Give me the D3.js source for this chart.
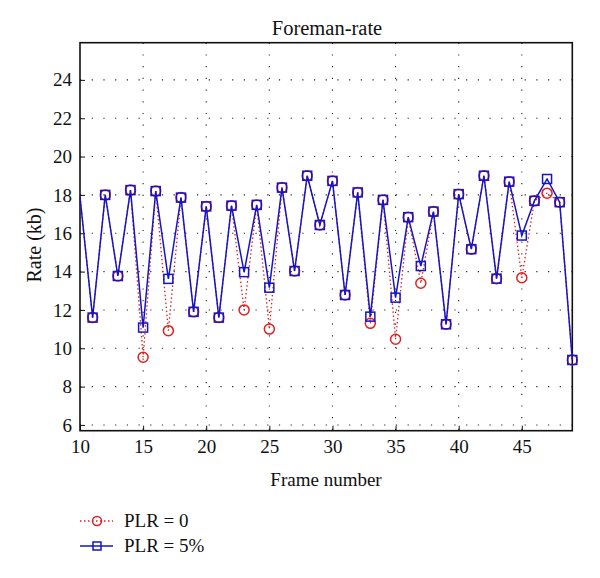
<!DOCTYPE html>
<html>
<head>
<meta charset="utf-8">
<script src="https://cdn.jsdelivr.net/npm/d3@7"></script>
<style>
  html, body { margin: 0; padding: 0; background: #fff; }
  svg { display: block; }
</style>
</head>
<body>
<svg id="chart" width="600" height="578"></svg>
<script>
const frames = d3.range(10, 50);
const plr0 = [17.9, 11.6, 18.0, 13.77, 18.25, 9.53, 18.2, 10.92, 17.86, 11.9,
              17.4, 11.6, 17.44, 12.0, 17.48, 11.0, 18.38, 14.03, 19.0, 16.43,
              18.73, 12.78, 18.13, 11.3, 17.74, 10.47, 16.84, 13.39, 17.13, 11.25,
              18.04, 15.17, 19.0, 13.63, 18.69, 13.68, 17.69, 18.09, 17.62, 9.39];
const plr5 = [17.9, 11.6, 18.0, 13.77, 18.25, 11.08, 18.2, 13.62, 17.86, 11.9,
              17.4, 11.6, 17.44, 13.97, 17.48, 13.16, 18.38, 14.03, 19.0, 16.43,
              18.73, 12.78, 18.13, 11.65, 17.74, 12.64, 16.84, 14.29, 17.13, 11.25,
              18.04, 15.17, 19.0, 13.63, 18.69, 15.88, 17.69, 18.83, 17.62, 9.39];
const xTicks = [10, 15, 20, 25, 30, 35, 40, 45];
const yTicks = [6, 8, 10, 12, 14, 16, 18, 20, 22, 24];
const seriesNames = ["PLR = 0", "PLR = 5%"];

const FONT = '"Liberation Serif"';
const svg = d3.select("#chart");
const L = 80, R = 572.3, T = 42.7, B = 430.7;
const x = d3.scaleLinear().domain([10, 49]).range([L, R]);
const y = d3.scaleLinear().domain([5.7, 25.94]).range([B, T]);

// grid
const grid = svg.append("g");
grid.selectAll("line.vg").data(xTicks.slice(1)).join("line")
  .attr("x1", d => x(d)).attr("x2", d => x(d)).attr("y1", T).attr("y2", B)
  .attr("stroke", "#222").attr("stroke-width", 1.1).attr("stroke-dasharray", "1.2,10.5");
grid.selectAll("line.hg").data(yTicks).join("line")
  .attr("x1", L).attr("x2", R).attr("y1", d => y(d)).attr("y2", d => y(d))
  .attr("stroke", "#222").attr("stroke-width", 1.1).attr("stroke-dasharray", "1.2,10.5");

// axes
const xAxis = d3.axisBottom(x).tickValues(xTicks).tickSize(-5).tickPadding(9).tickFormat(d3.format("d"));
const yAxis = d3.axisLeft(y).tickValues(yTicks).tickSize(-5).tickPadding(8).tickFormat(d3.format("d"));
const gx = svg.append("g").attr("transform", `translate(0,${B})`).call(xAxis);
const gy = svg.append("g").attr("transform", `translate(${L},0)`).call(yAxis);
[gx, gy].forEach(g => {
  g.select(".domain").remove();
  g.selectAll(".tick line").attr("stroke", "#111").attr("stroke-width", 1);
  g.selectAll(".tick text").attr("fill", "#111")
    .style("font-family", FONT).style("font-size", "19px");
});

// frame
svg.append("rect").attr("x", L).attr("y", T).attr("width", R - L).attr("height", B - T)
  .attr("fill", "none").attr("stroke", "#111").attr("stroke-width", 1.6);

const line = d3.line().x((d, i) => x(frames[i])).y(d => y(d));
const plot = svg.append("g");
// markers are not drawn on the left axis edge (as in the reference)
const markerIdx = frames.map((f, i) => i).filter(i => frames[i] > x.domain()[0]);

// PLR = 0 (red dotted)
plot.append("path").datum(plr0).attr("d", line).attr("fill", "none")
  .attr("stroke", "#e02020").attr("stroke-width", 1.3).attr("stroke-dasharray", "1.5,2.5");
plot.selectAll("circle.r").data(markerIdx).join("circle")
  .attr("cx", i => x(frames[i])).attr("cy", i => y(plr0[i])).attr("r", 5)
  .attr("fill", "none").attr("stroke", "#e02020").attr("stroke-width", 1.5);

// PLR = 5% (blue solid)
plot.append("path").datum(plr5).attr("d", line).attr("fill", "none")
  .attr("stroke", "#1515c8").attr("stroke-width", 1.5);
const s = 9;
plot.selectAll("rect.b").data(markerIdx).join("rect")
  .attr("x", i => x(frames[i]) - s / 2).attr("y", i => y(plr5[i]) - s / 2)
  .attr("width", s).attr("height", s)
  .attr("fill", "none").attr("stroke", "#1515c8").attr("stroke-width", 1.5);

// title & labels
const label = (tx, ty, txt, size, rot) => svg.append("text")
  .attr("transform", `translate(${tx},${ty})` + (rot ? " rotate(-90)" : ""))
  .attr("text-anchor", "middle").attr("fill", "#111")
  .style("font-family", FONT).style("font-size", size + "px").text(txt);
label(327, 35, "Foreman-rate", 20.5);
label(326, 486, "Frame number", 19);
label(41, 245, "Rate (kb)", 20, true);

// legend
const lg = svg.append("g");
const legY = [521, 546];
lg.append("line").attr("x1", 80).attr("x2", 113).attr("y1", legY[0]).attr("y2", legY[0])
  .attr("stroke", "#e02020").attr("stroke-width", 1.3).attr("stroke-dasharray", "1.5,2.5");
lg.append("circle").attr("cx", 97).attr("cy", legY[0]).attr("r", 4.5)
  .attr("fill", "none").attr("stroke", "#e02020").attr("stroke-width", 1.5);
lg.append("line").attr("x1", 80).attr("x2", 113).attr("y1", legY[1]).attr("y2", legY[1])
  .attr("stroke", "#1515c8").attr("stroke-width", 1.5);
lg.append("rect").attr("x", 97 - 4).attr("y", legY[1] - 4).attr("width", 8).attr("height", 8)
  .attr("fill", "none").attr("stroke", "#1515c8").attr("stroke-width", 1.5);
lg.selectAll("text").data(seriesNames).join("text")
  .attr("x", 124).attr("y", (d, i) => legY[i] + 6).attr("fill", "#111")
  .style("font-family", FONT).style("font-size", "19px").text(d => d);
</script>
</body>
</html>
